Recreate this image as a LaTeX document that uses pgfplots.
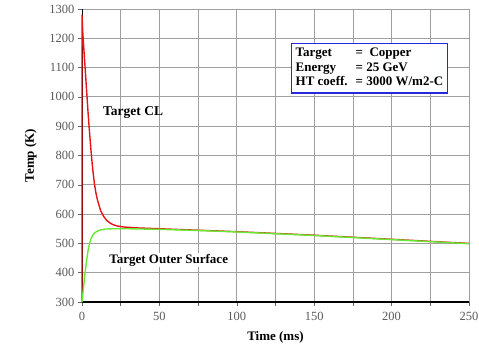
\documentclass[border=0pt]{standalone}
\usepackage{pgfplots}
\pgfplotsset{compat=1.18}
\usepackage{fontspec}
\setmainfont{Liberation Serif}
\definecolor{cl}{RGB}{230,20,20}
\definecolor{os}{RGB}{100,235,50}
\definecolor{boxc}{RGB}{40,40,220}
\begin{document}
\begin{tikzpicture}
\path[use as bounding box] (-82pt,-49pt) rectangle (397pt,302pt);
\begin{axis}[
  at={(0,0)}, anchor=south west,
  scale only axis, width=387pt, height=293pt,
  xmin=0, xmax=250, ymin=300, ymax=1300,
  xtick={0,50,...,250}, minor xtick={25,75,...,225},
  ytick={300,400,...,1300},
  grid=both,
  major grid style={gray!75, line width=0.8pt},
  minor grid style={gray!75, line width=0.8pt},
  axis x line=bottom, axis y line=left,
  x axis line style={black, line width=1.8pt, -},
  y axis line style={black, line width=0.6pt, -},
  tick style={gray!80!black, line width=0.6pt},
  major tick length=4pt, minor tick length=4pt,
  xtick align=outside, ytick align=outside,
  tick label style={font=\fontsize{12.5}{14}\selectfont, text=black!65},
  xticklabel style={yshift=-3pt},
  /pgf/number format/assume math mode=true,
  /pgf/number format/1000 sep={},
  xlabel={\textbf{Time (ms)}}, ylabel={\textbf{Temp (K)}},
  label style={font=\fontsize{13}{15}\selectfont},
  xlabel style={yshift=-4pt},
  ylabel style={yshift=6pt},
  clip=false,
]
\addplot[cl, line width=1.4pt] coordinates {
(0,300) (0,1280) (0.5,1220) (1,1180) (2,1100) (3,1020) (4,940) (5,870) (6,805) (7,750) (8,705) (9,672) (10,648) (12,612) (14,592) (16,578) (18,570) (20,564) (23,559) (27,556) (35,553) (50,550) (75,545) (100,540) (125,534) (150,528) (175,521) (200,514) (225,507) (250,500)};
\addplot[os, line width=1.4pt] coordinates {
(0,300) (0.5,325) (1,352) (2,400) (3,443) (4,478) (5,502) (6,518) (7,528) (8,535) (10,542) (12,546) (15,549) (20,550) (30,550) (50,548) (75,544) (100,539) (125,533) (150,527) (175,520) (200,513) (225,506) (250,499)};
\node[font=\fontsize{13.5}{16}\selectfont\bfseries] at (axis cs:33,946) {Target CL};
\node[font=\fontsize{13}{16}\selectfont\bfseries, fill=white, inner sep=1pt] at (axis cs:56,443) {Target Outer Surface};
\node[draw=boxc, line width=1.4pt, fill=white, anchor=north west, inner xsep=4pt, inner ysep=3pt,
  font=\fontsize{13}{14.5}\selectfont\bfseries, align=left] at (axis cs:135,1184)
  {\begin{tabular}{@{}l@{\hspace{8pt}}l@{}}Target & =\ \ Copper\\ Energy & = 25 GeV\\ HT coeff. & = 3000 W/m2-C\end{tabular}};
\end{axis}
\end{tikzpicture}
\end{document}
